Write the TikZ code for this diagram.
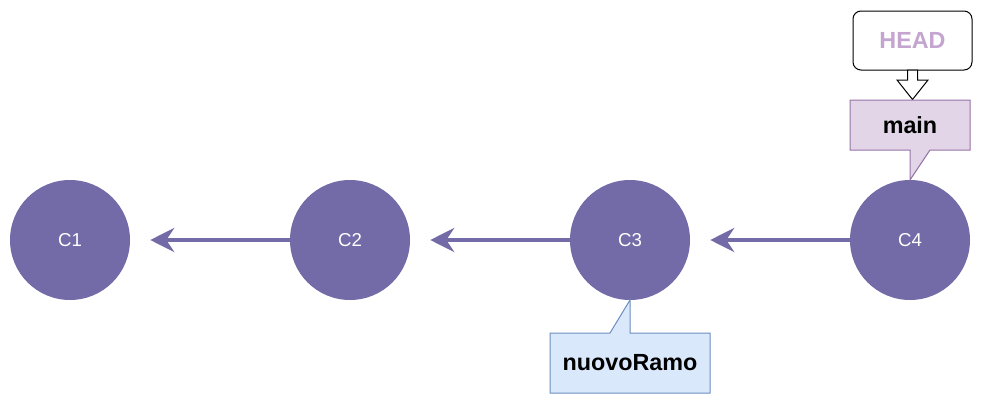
\documentclass[tikz,border=0pt]{standalone}
\usepackage{fontspec}
\setmainfont{Liberation Sans}
\usetikzlibrary{arrows.meta}
\definecolor{commit}{HTML}{736BA7}
\definecolor{headtxt}{HTML}{C3A5D0}
\definecolor{mainfill}{HTML}{E1D5E7}
\definecolor{maindraw}{HTML}{9673A6}
\definecolor{nrfill}{HTML}{DAE8FC}
\definecolor{nrdraw}{HTML}{6C8EBF}
\tikzset{
  commitnode/.style={circle, fill=commit, draw=none, minimum size=120*0.75pt, inner sep=0pt, text=white, font=\fontsize{14}{16}\selectfont},
  parentarrow/.style={draw=commit, line width=3pt, -{Stealth[length=18pt,width=18pt,inset=6pt]}, shorten >=20*0.75pt},
  labeltext/.style={font=\bfseries\fontsize{17.5}{20}\selectfont, inner sep=0pt},
}
\begin{document}
\begin{tikzpicture}[x=0.75pt,y=-0.75pt]
\useasboundingbox (0,0) rectangle (983,404);
% commits
\node[commitnode] (c1) at (70,240) {C1};
\node[commitnode] (c2) at (350,240) {C2};
\node[commitnode] (c3) at (630,240) {C3};
\node[commitnode] (c4) at (910,240) {C4};
\draw[parentarrow] (c2) -- (c1);
\draw[parentarrow] (c3) -- (c2);
\draw[parentarrow] (c4) -- (c3);
% HEAD
\draw[rounded corners=6pt, fill=white, draw=black, line width=0.75pt] (853,11) rectangle (972,70);
\node[labeltext, text=headtxt] (head) at (912.5,40.5) {HEAD};
% block arrow HEAD -> main
\draw[fill=white, draw=black, line width=0.75pt]
  (907.5,70) -- (917.5,70) -- (917.5,80) -- (928,80) -- (912.5,99.5) -- (897,80) -- (907.5,80) -- cycle;
% main callout
\draw[fill=mainfill, draw=maindraw, line width=0.75pt]
  (850,100) -- (970,100) -- (970,150) -- (930,150) -- (910,180) -- (910,150) -- (850,150) -- cycle;
\node[labeltext, text=black] (main) at (910,125) {main};
% nuovoRamo callout
\draw[fill=nrfill, draw=nrdraw, line width=0.75pt]
  (550,333) -- (610,333) -- (630,300) -- (630,333) -- (710,333) -- (710,393) -- (550,393) -- cycle;
\node[labeltext, text=black] (nr) at (630,363) {nuovoRamo};
\end{tikzpicture}
\end{document}
